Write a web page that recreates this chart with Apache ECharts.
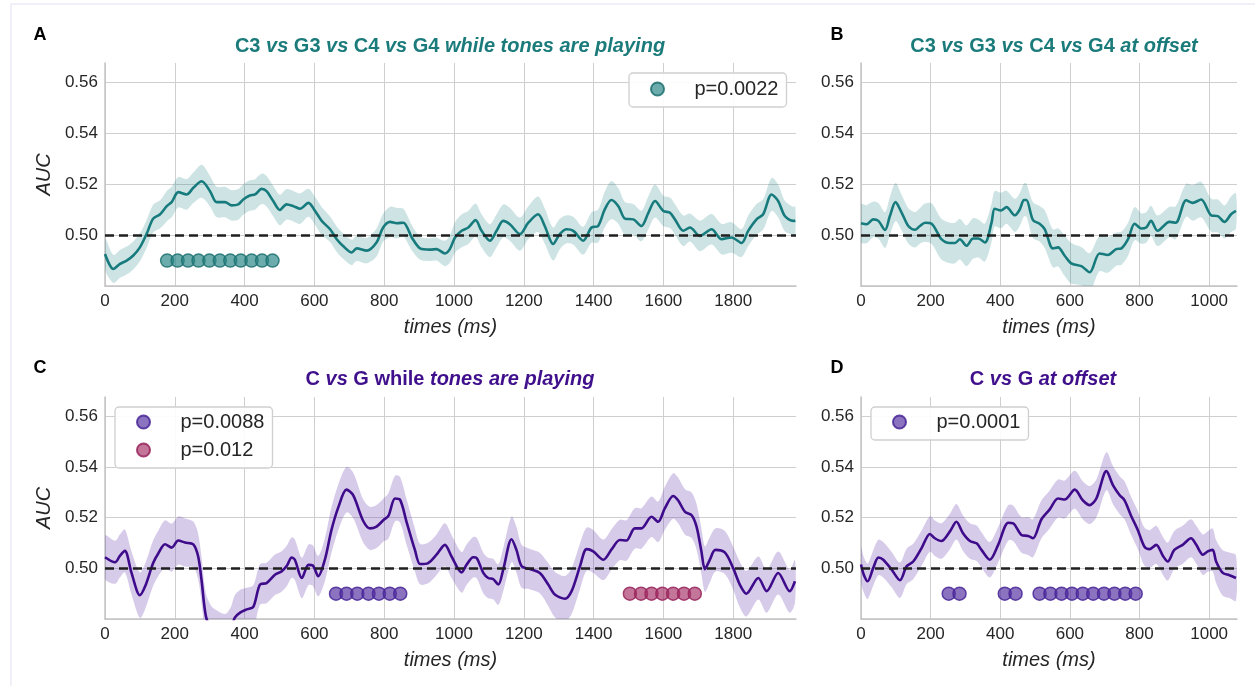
<!DOCTYPE html>
<html>
<head>
<meta charset="utf-8">
<script src="https://cdn.jsdelivr.net/npm/echarts@6/dist/echarts.min.js"></script>
<style>html,body{margin:0;padding:0;background:#fff;}#chart{width:1255px;height:686px;}</style>
</head>
<body>
<div id="chart"></div>
<script>
// ---------- Panel A: C3 vs G3 vs C4 vs G4 while tones are playing ----------
var aTimes = [0,24,43,62,81,100,119,138,158,177,191,210,234,253,277,301,320,344,363,382,396,415,430,449,463,482,501,520,540,559,583,602,621,645,664,683,707,721,750,778,797,817,836,855,879,903,931,950,974,
  988,1003,1022,1041,1062,1079,1103,1122,1141,1160,1189,1213,1241,1260,1284,1303,1323,1342,1370,1394,1413,1432,1451,1471,1490,1514,1537,1557,1576,1600,1619,1633,1657,1676,1705,1738,1767,1795,1824,1843,1867,1886,1910,1929,1948,1972,1978];
var aMean = [0.4926,0.4867,0.4887,0.490,0.492,0.4952,0.5004,0.5065,0.5082,0.5114,0.513,0.5169,0.516,0.5186,0.5212,0.5173,0.513,0.513,0.5117,0.5121,0.514,0.5156,0.516,0.5182,0.5173,0.5134,0.5099,0.5121,0.5114,0.5104,0.5127,0.5095,0.5056,0.5023,0.4984,0.4956,0.4932,0.4948,0.4939,0.4971,0.503,0.5052,0.5047,0.5049,0.4991,0.4948,0.4943,0.4945,0.4928,
  0.4945,0.4991,0.5017,0.503,0.5059,0.5017,0.4978,0.5017,0.5056,0.5043,0.5004,0.5049,0.5082,0.5036,0.4965,0.5004,0.5023,0.5017,0.4978,0.503,0.5036,0.5101,0.5138,0.5114,0.5065,0.5062,0.5036,0.5088,0.5134,0.5095,0.5088,0.5062,0.5017,0.503,0.4997,0.5023,0.4984,0.4991,0.4969,0.5017,0.5062,0.5082,0.516,0.5134,0.5075,0.5056,0.5058];
var aSem = [0.006,0.0055,0.0055,0.0055,0.0055,0.0055,
  0.0055,0.0055,0.0055,0.006,0.006,0.006,0.006,0.006,0.0065,
  0.006,0.006,0.006,0.006,0.006,0.006,0.006,0.006,0.006,0.006,0.006,0.006,0.006,0.006,0.006,
  0.0055,0.0055,0.0055,0.005,0.005,0.005,0.005,0.005,0.005,0.0055,
  0.0055,0.006,0.006,0.0055,0.005,0.0045,0.0045,0.0045,0.005,
  0.0055,0.006,0.0065,0.0065,0.0065,0.0065,0.0065,0.0065,0.0065,0.0065,
  0.0065,0.0065,0.007,0.007,0.0065,0.006,0.0055,0.0055,0.0055,0.006,
  0.0065,0.007,0.0075,0.007,0.0065,0.006,0.006,0.0065,0.0065,0.006,
  0.006,0.006,0.006,0.0055,0.006,0.006,0.006,0.006,0.0055,0.006,
  0.006,0.006,0.0065,0.0065,0.006,0.0055,0.0055];
var aSigTimes = [178,208,238,268,299,329,359,389,420,450,480];

// ---------- Panel B: C3 vs G3 vs C4 vs G4 at offset ----------
var bTimes = [0,16,35,50,69,83,99,117,136,155,169,184,203,231,255,270,284,303,322,337,356,375,384,402,418,442,456,468,475,494,513,528,551,566,585,604,633,657,685,709,733,748,767,786,805,819,833,852,886,904,934,953,977,1006,1025,1044,1063,1077];
var bMean = [0.5047,0.5043,0.5062,0.5056,0.502,0.5075,0.513,0.5088,0.5036,0.5021,0.5036,0.5049,0.5045,0.4984,0.4969,0.4969,0.4984,0.4958,0.4987,0.4987,0.4971,0.5049,0.5104,0.5097,0.511,0.5078,0.5101,0.5138,0.5138,0.5059,0.5045,0.5023,0.4948,0.4952,0.4919,0.4889,0.4878,0.4854,0.4928,0.4922,0.4945,0.4948,0.4984,0.5045,0.5026,0.503,0.5056,0.5017,0.5052,0.5049,0.5137,0.5127,0.514,0.5078,0.5075,0.5052,0.5082,0.5095];
var bSem = [0.0075,0.0075,0.007,0.007,0.007,0.0075,0.0075,0.007,0.007,0.007,
  0.007,0.0075,0.008,0.008,0.008,0.008,0.008,0.008,0.008,0.0075,
  0.0075,0.0075,0.007,0.007,0.0065,0.0065,0.0065,0.0065,0.0065,0.007,
  0.007,0.0075,0.0075,0.0075,0.008,0.008,0.0075,0.0075,0.007,0.007,
  0.0065,0.0065,0.0065,0.0065,0.006,0.006,0.006,0.006,0.006,0.0065,
  0.0065,0.007,0.007,0.0065,0.0065,0.0065,0.007,0.007];

// ---------- Panel C: C vs G while tones are playing ----------
var cTimes = [0,29,43,57,76,100,115,138,153,172,191,210,229,253,267,277,289,305,325,345,360,372,387,406,425,444,463,487,506,521,535,544,564,583,595,611,630,649,669,692,711,740,759,778,798,812,831,845,864,888,903,926,950,974,993,1022,1036,1055,1065,1084,1098,1112,1127,1141,1165,1179,1194,1218,1246,1270,1289,1318,1337,1361,1380,1399,1428,1452,1475,1494,1518,1537,1566,1585,1604,1628,1642,1662,1681,1695,1709,1719,1733,1749,1776,1800,1819,1838,1872,1896,1929,1962,1977];
var cMean = [0.5044,0.5024,0.505,0.5069,0.4982,0.4894,0.4929,0.5021,0.506,0.5095,0.5082,0.511,0.5102,0.5095,0.5047,0.4949,0.4812,0.476,0.474,0.473,0.4755,0.4805,0.4825,0.4838,0.4848,0.4936,0.4942,0.4975,0.4988,0.501,0.5043,0.5034,0.4962,0.5014,0.5012,0.4969,0.5034,0.5152,0.5243,0.5311,0.5289,0.5187,0.5158,0.5165,0.5191,0.5207,0.5276,0.5272,0.5184,0.5073,0.5017,0.5021,0.5054,0.5093,0.5047,0.4984,0.5014,0.5044,0.5041,0.4982,0.4962,0.4958,0.4936,0.4995,0.5115,0.5073,0.5008,0.4997,0.4982,0.4936,0.4897,0.488,0.491,0.5008,0.5076,0.5067,0.5034,0.5076,0.5112,0.511,0.5158,0.5158,0.5204,0.5184,0.5237,0.5286,0.5269,0.5223,0.521,0.5165,0.5067,0.4997,0.5034,0.5073,0.5063,0.5001,0.4936,0.49,0.4962,0.491,0.4982,0.491,0.4949];
var cSem = [0.0085,0.0085,0.0085,0.0085,0.0085,0.009,0.009,0.009,0.009,0.0095,
  0.0095,0.0095,0.0095,0.009,0.009,0.009,0.009,0.009,0.009,0.009,
  0.009,0.009,0.009,0.0085,0.0085,0.008,0.008,0.008,0.008,0.008,
  0.008,0.008,0.008,0.008,0.008,0.008,0.0085,0.009,0.009,0.009,
  0.009,0.0085,0.0085,0.0085,0.0085,0.009,0.009,0.009,0.009,0.0085,
  0.008,0.008,0.008,0.0085,0.0085,0.008,0.008,0.008,0.008,0.008,
  0.008,0.008,0.008,0.0085,0.009,0.009,0.0085,0.008,0.008,0.0085,
  0.009,0.009,0.009,0.009,0.0085,0.0085,0.008,0.008,0.008,0.008,
  0.008,0.008,0.008,0.008,0.0085,0.009,0.009,0.009,0.009,0.009,
  0.009,0.009,0.009,0.0085,0.0085,0.0085,0.009,0.009,0.0085,0.0085,
  0.0085,0.0085,0.0085];
var cSigTimes1 = [662,692,723,755,785,816,846];
var cSigTimes2 = [1504,1536,1566,1597,1628,1659,1690];

// ---------- Panel D: C vs G at offset ----------
var dTimes = [0,8,19,35,50,64,88,112,131,150,174,198,212,231,255,274,293,313,332,346,370,394,423,437,461,480,494,518,542,566,585,614,637,657,676,705,724,743,757,776,795,814,829,848,867,881,900,924,948,963,982,996,1010,1020,1039,1058,1077];
var dMean = [0.5015,0.4975,0.4949,0.5001,0.5043,0.5034,0.4995,0.4953,0.5008,0.5027,0.508,0.5136,0.5119,0.5108,0.5145,0.5184,0.5139,0.5108,0.5099,0.5073,0.5034,0.5093,0.518,0.5178,0.5132,0.5128,0.5119,0.5193,0.5233,0.5276,0.5272,0.5311,0.5269,0.525,0.5276,0.5384,0.5328,0.5289,0.5269,0.5207,0.5152,0.5086,0.5076,0.5093,0.505,0.5027,0.5073,0.5093,0.5119,0.5093,0.5054,0.5067,0.5073,0.5027,0.4982,0.4973,0.4962];
var dSem = [0.007,0.007,0.007,0.007,0.007,0.007,0.007,0.007,0.007,0.007,
  0.007,0.007,0.007,0.007,0.007,0.007,0.007,0.007,0.007,0.007,
  0.007,0.007,0.007,0.007,0.007,0.0075,0.0075,0.0075,0.0075,0.0075,
  0.0075,0.0075,0.0075,0.0075,0.0075,0.0075,0.0075,0.0075,0.0075,0.0075,
  0.0075,0.0075,0.0075,0.0075,0.0075,0.0075,0.0075,0.0075,0.0075,0.0075,
  0.008,0.008,0.0085,0.0085,0.009,0.009,0.009];
var dSigTimes = [252,283,413,444,513,544,576,606,637,667,698,728,759,789];

var sigLevel = 0.49;
var chanceLevel = 0.5;
var yTicks = [0.50, 0.52, 0.54, 0.56];
var legendNames = {A: ['p=0.0022'], C: ['p=0.0088', 'p=0.012'], D: ['p=0.0001']};

// ---------- styling ----------
var FONT = "'Liberation Sans', Arial, sans-serif";
var TEAL = '#177b7d', TEAL_BAND = 'rgba(30,130,130,0.22)';
var PURPLE = '#3e0b8b', PURPLE_BAND = 'rgba(110,70,180,0.28)';
var TXT = '#262626';

function bandSeries(id, idx, times, mean, sem, lineColor, bandColor) {
  var n = Math.min(times.length, mean.length, sem.length);
  var band = [], m = [];
  for (var i = 0; i < n; i++) {
    band.push([times[i], mean[i] - sem[i], mean[i] + sem[i]]);
    m.push([times[i], mean[i]]);
  }
  return [
    {type: 'custom', name: id + '_band', xAxisIndex: idx, yAxisIndex: idx, silent: true, z: 1,
      data: band, encode: {x: 0, y: [1, 2]},
      renderItem: function (params, api) {
        if (params.dataIndex !== 0) return null;
        var pts = [], k;
        for (k = 0; k < band.length; k++) pts.push(api.coord([band[k][0], band[k][2]]));
        for (k = band.length - 1; k >= 0; k--) pts.push(api.coord([band[k][0], band[k][1]]));
        var cs = params.coordSys;
        return {type: 'polygon', shape: {points: pts, smooth: 0.3},
          style: {fill: bandColor, stroke: null},
          clipPath: {type: 'rect', shape: {x: cs.x, y: cs.y, width: cs.width, height: cs.height}}};
      }},
    {type: 'line', name: id + '_mean', xAxisIndex: idx, yAxisIndex: idx, symbol: 'none', smooth: 0.3, silent: true,
      data: m, lineStyle: {color: lineColor, width: 2.6}, z: 3,
      markLine: {silent: true, symbol: ['none', 'none'], label: {show: false},
        lineStyle: {color: '#1f1f1f', type: [9, 5], width: 2.5},
        data: [{yAxis: chanceLevel}]}}
  ];
}
function sigSeries(name, idx, times, fill, border) {
  return {type: 'scatter', name: name, xAxisIndex: idx, yAxisIndex: idx, symbol: 'circle', symbolSize: 13,
    data: times.map(function (t) { return [t, sigLevel]; }),
    itemStyle: {color: fill, borderColor: border, borderWidth: 1.5, opacity: 1}, z: 4, silent: true};
}

var grids = [
  {left: 105, top: 63, width: 691, height: 223},
  {left: 861, top: 63, width: 376, height: 223},
  {left: 105, top: 397, width: 691, height: 222},
  {left: 861, top: 397, width: 376, height: 222}
];
var xMaxes = [1980, 1080, 1980, 1080];

var xAxes = grids.map(function (g, i) {
  return {type: 'value', gridIndex: i, min: 0, max: xMaxes[i], interval: 200,
    axisLine: {show: true, onZero: false, lineStyle: {color: '#c4c4c4', width: 1.5}},
    axisTick: {show: false},
    axisLabel: {fontSize: 17, color: TXT, margin: 7, fontFamily: FONT, showMaxLabel: false,
      formatter: function (v) { return String(Math.round(v)); }},
    splitLine: {show: true, showMaxLine: false, lineStyle: {color: '#cfcfcf', width: 1}},
    name: 'times (ms)', nameLocation: 'middle', nameGap: 31,
    nameTextStyle: {fontSize: 20, fontStyle: 'italic', color: TXT, fontFamily: FONT}};
});
var yAxes = grids.map(function (g, i) {
  var ax = {type: 'value', gridIndex: i, min: 0.48, max: 0.5677, interval: 0.02,
    axisLine: {show: true, onZero: false, lineStyle: {color: '#c4c4c4', width: 1.5}},
    axisTick: {show: false},
    axisLabel: {fontSize: 17, color: TXT, margin: 7, fontFamily: FONT, showMinLabel: false, showMaxLabel: false,
      formatter: function (v) { return yTicks.indexOf(Math.round(v * 100) / 100) >= 0 ? v.toFixed(2) : ''; }},
    splitLine: {show: true, showMaxLine: false, lineStyle: {color: '#cfcfcf', width: 1}}};
  if (i === 0 || i === 2) {
    ax.name = 'AUC'; ax.nameLocation = 'middle'; ax.nameGap = 50; ax.nameRotate = 90;
    ax.nameTextStyle = {fontSize: 20, fontStyle: 'italic', color: TXT, fontFamily: FONT};
  }
  return ax;
});

var series = [].concat(
  bandSeries('A', 0, aTimes, aMean, aSem, TEAL, TEAL_BAND),
  bandSeries('B', 1, bTimes, bMean, bSem, TEAL, TEAL_BAND),
  bandSeries('C', 2, cTimes, cMean, cSem, PURPLE, PURPLE_BAND),
  bandSeries('D', 3, dTimes, dMean, dSem, PURPLE, PURPLE_BAND),
  [
    sigSeries(legendNames.A[0], 0, aSigTimes, 'rgba(40,132,132,0.68)', 'rgba(28,112,112,0.85)'),
    sigSeries(legendNames.C[0], 2, cSigTimes1, 'rgba(84,48,160,0.68)', 'rgba(72,36,150,0.85)'),
    sigSeries(legendNames.C[1], 2, cSigTimes2, 'rgba(165,45,100,0.65)', 'rgba(150,35,90,0.85)'),
    sigSeries(legendNames.D[0], 3, dSigTimes, 'rgba(84,48,160,0.68)', 'rgba(72,36,150,0.85)')
  ]
);

function makeLegend(names, left, top, padding) {
  return {data: names, left: left, top: top, orient: 'vertical', padding: padding, itemWidth: 28, itemHeight: 13,
    itemGap: 6, selectedMode: false, icon: 'circle',
    borderColor: '#cfcfcf', borderWidth: 1.3, borderRadius: 4, backgroundColor: 'rgba(255,255,255,0.9)',
    formatter: function (n) { return '{g|}' + n; },
    textStyle: {fontSize: 20, lineHeight: 22, color: TXT, fontFamily: FONT, rich: {g: {width: 18}}}};
}

function titleRich(color) {
  return {
    b: {fontSize: 20, fontWeight: 'bold', fill: color, fontFamily: FONT},
    i: {fontSize: 20, fontWeight: 'bold', fontStyle: 'italic', fill: color, fontFamily: FONT}
  };
}
function titleText(x, y, text, color) {
  return {type: 'text', x: x, y: y, silent: true,
    style: {text: text, rich: titleRich(color), fill: color, align: 'center', verticalAlign: 'middle', fontFamily: FONT}};
}
function letter(x, y, t) {
  return {type: 'text', x: x, y: y, silent: true,
    style: {text: t, fontSize: 18, fontWeight: 'bold', fill: '#000', align: 'center', verticalAlign: 'middle', fontFamily: FONT}};
}

var option = {
  animation: false,
  backgroundColor: '#ffffff',
  textStyle: {fontFamily: FONT},
  grid: grids,
  xAxis: xAxes,
  yAxis: yAxes,
  legend: [
    makeLegend(legendNames.A, 629, 73, [5, 8, 7, 21]),
    makeLegend(legendNames.C, 115, 407, [4, 8, 7, 21]),
    makeLegend(legendNames.D, 871, 407, [4, 8, 7, 21])
  ],
  graphic: [
    {type: 'rect', silent: true, z: -10, shape: {x: 11, y: 4, width: 1300, height: 700},
      style: {fill: 'none', stroke: '#ececf7', lineWidth: 1.5}},
    letter(40, 35, 'A'), letter(837, 35, 'B'), letter(40, 368, 'C'), letter(837, 368, 'D'),
    titleText(450, 46, '{b|C3 }{i|vs}{b| G3 }{i|vs}{b| C4 }{i|vs}{b| G4 }{i|while tones are playing}', '#1b7b7b'),
    titleText(1054, 46, '{b|C3 }{i|vs}{b| G3 }{i|vs}{b| C4 }{i|vs}{b| G4 }{i|at offset}', '#1b7b7b'),
    titleText(450, 379, '{b|C }{i|vs}{b| G while }{i|tones are playing}', '#40108c'),
    titleText(1043, 379, '{b|C }{i|vs}{b| G }{i|at offset}', '#40108c')
  ],
  series: series
};

var chart = echarts.init(document.getElementById('chart'), null, {renderer: 'canvas'});
chart.setOption(option);
</script>
</body>
</html>
